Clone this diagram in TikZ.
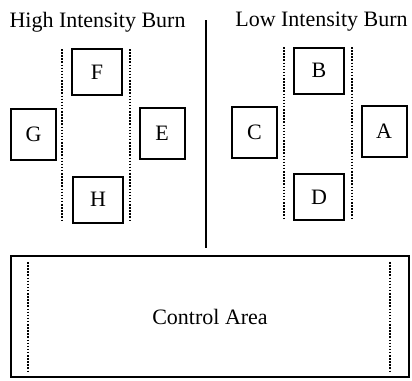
\documentclass[tikz,border=0pt]{standalone}
\usepackage{fontspec}
\setmainfont{Liberation Serif}
\begin{document}
\begin{tikzpicture}[x=1pt,y=-1pt,
    plotbox/.style = {draw, line width=2pt, inner sep=0pt,
        minimum width=50pt, minimum height=46pt},
    sidebox/.style = {plotbox, minimum width=45pt, minimum height=51pt},
    edge/.style = {line width=1.8pt, dash pattern=on 1.5pt off 1.6pt},
    title/.style = {font=\fontsize{22}{26}\selectfont}]
\useasboundingbox (0,0) rectangle (412,380);

% High intensity burn
\node[title] (high) at (97.5,22) {High Intensity Burn};
\node[plotbox,title] (F) at (97,72) {F};
\node[sidebox,title] (G) at (33.5,134) {G};
\node[sidebox,title] (E) at (162,133) {E};
\node[plotbox,title] (H) at (98,199.5) {H};
\draw[edge] (62,49) -- (62,222);
\draw[edge] (130,49) -- (130,222);

% Low intensity burn
\node[title] (low) at (321.5,22) {Low Intensity Burn};
\node[plotbox,title] (B) at (319,70.5) {B};
\node[sidebox,title] (C) at (254.5,132) {C};
\node[sidebox,title] (A) at (384,131) {A};
\node[plotbox,title] (D) at (319,197) {D};
\draw[edge] (284,47) -- (284,220);
\draw[edge] (352,47) -- (352,220);

% Divider
\draw[line width=1.6pt] (206,20) -- (206,248);

% Control area
\node[draw,line width=2pt,minimum width=398pt,minimum height=121pt,
    title] (control) at (210,316.5) {Control Area};
\draw[edge] (28,262) -- (28,373);
\draw[edge] (390,262) -- (390,373);
\end{tikzpicture}
\end{document}
